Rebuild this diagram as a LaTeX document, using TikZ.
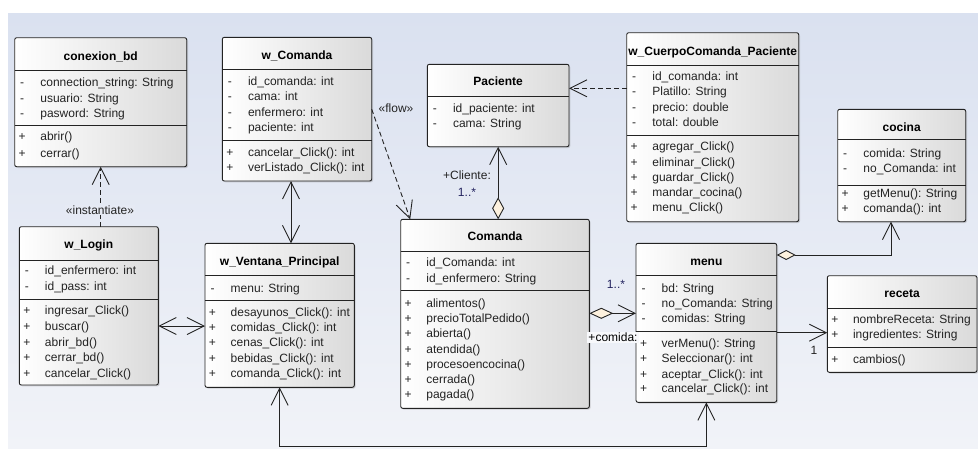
\documentclass[tikz,border=0pt]{standalone}
\usepackage{fontspec}
\setmainfont{Liberation Sans}
\usetikzlibrary{arrows.meta,shadows,calc}
\definecolor{bgtop}{RGB}{218,225,240}
\definecolor{bgbot}{RGB}{241,243,248}
\definecolor{bgmid}{RGB}{230,234,244}
\definecolor{boxgray}{RGB}{218,218,218}
\definecolor{cream}{RGB}{253,241,222}
\definecolor{ink}{RGB}{35,35,35}
\definecolor{navy}{RGB}{35,35,95}
\newcounter{mline}
\tikzset{
  classbox/.style={draw=ink, line width=0.9pt, rounded corners=2pt, inner sep=0pt, outer sep=0pt,
    anchor=north west, left color=white, right color=boxgray,
    drop shadow={shadow xshift=1.3pt, shadow yshift=-1.3pt, opacity=0.3}},
  seprule/.style={draw=ink, line width=0.9pt},
  ctitle/.style={font=\fontsize{12}{14}\selectfont\bfseries, text=black, inner sep=0pt,
    text height=8.8pt, text depth=2pt},
  mtext/.style={font=\fontsize{12}{14}\selectfont, text=ink, inner sep=0pt, anchor=west,
    text height=9pt, text depth=1.6pt},
  msign/.style={mtext, anchor=center},
  lbl/.style={font=\fontsize{12}{14}\selectfont, text=ink, inner sep=1pt},
  conn/.style={draw=ink, line width=0.9pt},
  dep/.style={conn, dash pattern=on 5pt off 3pt},
  >={Straight Barb[length=17pt,width=17pt]}
}
\newcommand{\umlbox}[7]{%
  \node[classbox, minimum width={#4pt-#2pt}, minimum height={#5pt-#3pt}] (#1) at (#2,#3) {};
  \node[ctitle] (#1-title) at ({(#2+#4)/2},#6) {#7};
  \def\curleft{#2}\def\curname{#1}}
\newcommand{\usep}[1]{\draw[seprule] (\curname.west |- 0,#1) -- (\curname.east |- 0,#1);}
\newcommand{\umem}[3]{\stepcounter{mline}%
  \node[msign] (s\arabic{mline}) at ({\curleft+7.5},#1) {#2};
  \node[mtext] (m\arabic{mline}) at ({\curleft+25.5},#1) {#3};}
\begin{document}
\begin{tikzpicture}[x=1pt,y=-1pt]
\useasboundingbox (0,0) rectangle (978,448);
\fill[white] (0,0) rectangle (978,448);
\fill[top color=bgtop, bottom color=bgbot] (8,13) rectangle (978,448);

\umlbox{conexion}{14.7}{37.7}{186.7}{166.7}{57}{conexion\_bd}
\usep{70.3}\usep{125.7}
\umem{82.5}{-}{connection\_string: String}
\umem{98.5}{-}{usuario: String}
\umem{114}{-}{pasword: String}
\umem{137}{+}{abrir()}
\umem{153.5}{+}{cerrar()}

\umlbox{wcom}{222.3}{37.3}{371.7}{181}{55.7}{w\_Comanda}
\usep{69.3}\usep{140}
\umem{81.7}{-}{id\_comanda: int}
\umem{97}{-}{cama: int}
\umem{112.3}{-}{enfermero: int}
\umem{127.7}{-}{paciente: int}
\umem{152.7}{+}{cancelar\_Click(): int}
\umem{167.7}{+}{verListado\_Click(): int}

\umlbox{paciente}{427.3}{64.3}{569}{146.7}{82}{Paciente}
\usep{96}
\umem{108.3}{-}{id\_paciente: int}
\umem{124}{-}{cama: String}

\umlbox{cuerpo}{626.7}{32.7}{798.7}{221.7}{52.3}{w\_CuerpoComanda\_Paciente}
\usep{65}\usep{135}
\umem{76.7}{-}{id\_comanda: int}
\umem{91.7}{-}{Platillo: String}
\umem{107.7}{-}{precio: double}
\umem{122.7}{-}{total: double}
\umem{147}{+}{agregar\_Click()}
\umem{162.3}{+}{eliminar\_Click()}
\umem{177.3}{+}{guardar\_Click()}
\umem{192.7}{+}{mandar\_cocina()}
\umem{208}{+}{menu\_Click()}

\umlbox{cocina}{837.7}{109.3}{965.7}{221.7}{128.3}{cocina}
\usep{139}\usep{185}
\umem{153.3}{-}{comida: String}
\umem{168.7}{-}{no\_Comanda: int}
\umem{193.3}{+}{getMenu(): String}
\umem{208.7}{+}{comanda(): int}

\umlbox{login}{19.3}{226.7}{158.3}{385}{245}{w\_Login}
\usep{260}\usep{299.3}
\umem{271}{-}{id\_enfermero: int}
\umem{287}{-}{id\_pass: int}
\umem{311}{+}{ingresar\_Click()}
\umem{327}{+}{buscar()}
\umem{342.7}{+}{abrir\_bd()}
\umem{358}{+}{cerrar\_bd()}
\umem{374}{+}{cancelar\_Click()}

\umlbox{ventana}{205}{243.3}{354.3}{387.3}{261.7}{w\_Ventana\_Principal}
\usep{275}\usep{300}
\umem{288.3}{-}{menu: String}
\umem{312.7}{+}{desayunos\_Click(): int}
\umem{328}{+}{comidas\_Click(): int}
\umem{343}{+}{cenas\_Click(): int}
\umem{358.7}{+}{bebidas\_Click(): int}
\umem{374}{+}{comanda\_Click(): int}

\umlbox{comanda}{400.7}{219.3}{589.3}{408.3}{236.7}{Comanda}
\usep{251.7}\usep{290.7}
\umem{262.7}{-}{id\_Comanda: int}
\umem{278.7}{-}{id\_enfermero: String}
\umem{303.3}{+}{alimentos()}
\umem{318.7}{+}{precioTotalPedido()}
\umem{334}{+}{abierta()}
\umem{349.7}{+}{atendida()}
\umem{364.7}{+}{procesoencocina()}
\umem{380}{+}{cerrada()}
\umem{395}{+}{pagada()}

\umlbox{menu}{636}{243.3}{776.7}{402.3}{262.3}{menu}
\usep{275}\usep{331}
\umem{288.3}{-}{bd: String}
\umem{303.3}{-}{no\_Comanda: String}
\umem{318.7}{-}{comidas: String}
\umem{343.3}{+}{verMenu(): String}
\umem{358.7}{+}{Seleccionar(): int}
\umem{374.3}{+}{aceptar\_Click(): int}
\umem{389}{+}{cancelar\_Click(): int}

\umlbox{receta}{827.3}{275.7}{977}{372.3}{294}{receta}
\usep{308.3}\usep{347.3}
\umem{320}{+}{nombreReceta: String}
\umem{335}{+}{ingredientes: String}
\umem{360}{+}{cambios()}

% connectors
\draw[dep,->] (login.north -| conexion.south) -- (conexion.south);
\node[lbl, fill=bgmid] (linst) at (100,210) {«instantiate»};

\draw[dep,->] (wcom.east) -- ($(comanda.north west)+(9.5,0)$);
\node[lbl] (lflow) at (396,108) {«flow»};

\draw[dep,->] (cuerpo.west |- 0,88.3) -- (paciente.east |- 0,88.3);

\draw[conn,{Diamond[length=22pt,width=12pt,fill=cream]}->] (comanda.north -| paciente.south) -- (paciente.south);
\node[lbl] (lcli) at (467,175) {+Cliente:};
\node[lbl, text=navy] (lcm) at (467,192) {1..*};

\draw[conn,<->] (login.east |- 0,326) -- (ventana.west |- 0,326);
\draw[conn,<->] (wcom.south -| 291,0) -- (ventana.north -| 291,0);
\draw[conn,<->] (ventana.south) -- (ventana.south |- 0,446.3) -| (menu.south);

\draw[conn,{Diamond[length=24pt,width=11pt,fill=cream]}->] (comanda.east |- 0,313.3) -- (menu.west |- 0,313.3);
\node[lbl, text=navy] (lcm2) at (616,284) {1..*};
\node[lbl, fill=bgbot!60!white, text=black] (lcom) at (613,337.3) {+comida:};

\coordinate (mc) at (891,255);
\draw[conn,{Diamond[length=19pt,width=10pt,fill=cream]}->] (menu.east |- mc) -- (mc) -- (cocina.south -| mc);

\draw[conn,->] (menu.east |- 0,332.7) -- (receta.west |- 0,332.7);
\node[lbl] (lone) at (814,350) {1};
\end{tikzpicture}
\end{document}
